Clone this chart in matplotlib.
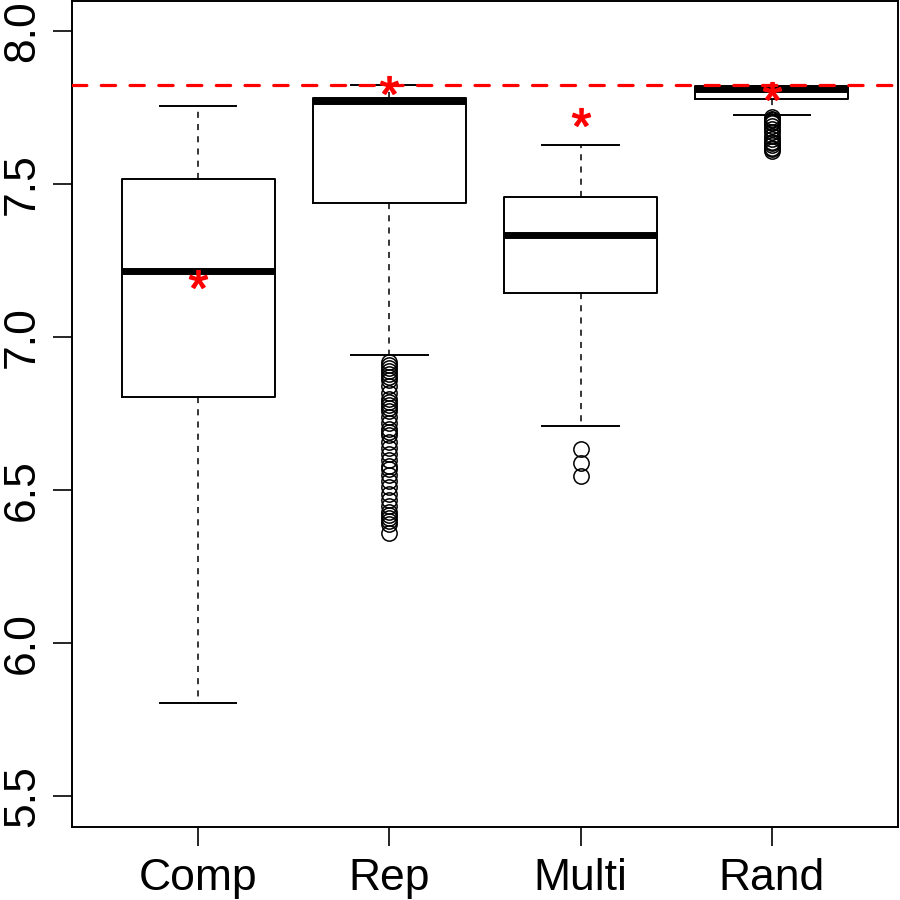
import matplotlib
matplotlib.use("Agg")
import matplotlib.pyplot as plt

plt.rcParams["font.family"] = ["Liberation Sans", "DejaVu Sans"]
plt.rcParams["mathtext.fontset"] = "custom"
plt.rcParams["mathtext.rm"] = "Liberation Sans"
plt.rcParams["mathtext.it"] = "Liberation Sans"

# values
groups = ["Comp", "Rep", "Multi", "Rand"]
whislo = [5.807, 6.943, 6.711, 7.726]
q1 = [6.805, 7.439, 7.145, 7.780]
med = [7.217, 7.773, 7.334, 7.811]
q3 = [7.517, 7.783, 7.458, 7.823]
whishi = [7.755, 7.824, 7.628, 7.823]
means = [7.19, 7.824, 7.719, 7.804]
outliers = [
    [],
    [6.92, 6.91, 6.90, 6.89, 6.88, 6.87, 6.86, 6.84, 6.82, 6.80, 6.79, 6.78,
     6.77, 6.76, 6.74, 6.72, 6.70, 6.69, 6.68, 6.66, 6.64, 6.62, 6.60, 6.58,
     6.57, 6.55, 6.53, 6.51, 6.49, 6.47, 6.45, 6.43, 6.42, 6.41, 6.40, 6.39,
     6.36],
    [6.636, 6.590, 6.548],
    [7.72, 7.715, 7.71, 7.705, 7.70, 7.69, 7.68, 7.67, 7.66, 7.65, 7.64,
     7.635, 7.63, 7.62, 7.615, 7.61],
]
ref_value = 7.824

stats = [dict(label=g, whislo=a, q1=b, med=c, q3=d, whishi=e, fliers=f)
         for g, a, b, c, d, e, f in zip(groups, whislo, q1, med, q3, whishi, outliers)]
pos = list(range(1, len(groups) + 1))

fig = plt.figure(figsize=(9, 9), dpi=100)
ax = fig.add_axes([0.08, 0.081, 0.918, 0.918])

ax.bxp(stats, positions=pos, widths=0.8, capwidths=0.4, showfliers=True,
       boxprops=dict(color="black", linewidth=1.4),
       medianprops=dict(color="black", linewidth=5, solid_capstyle="butt"),
       whiskerprops=dict(color="black", linewidth=1.1, linestyle=(0, (4, 4))),
       capprops=dict(color="black", linewidth=1.4),
       flierprops=dict(marker="o", markersize=11, markerfacecolor="none",
                       markeredgecolor="black", markeredgewidth=1.1))

ax.plot(pos, means, ls="none", marker="$*$", ms=13, color="red", zorder=5)
ax.axhline(ref_value, color="red", linewidth=2.3, linestyle=(0, (4.5, 4.5)),
           dash_capstyle="round", zorder=4)

ax.set_xlim(0.34, 4.66)
ax.set_ylim(5.4, 8.1)
ax.set_yticks([5.5, 6.0, 6.5, 7.0, 7.5, 8.0])
ax.set_yticklabels(["5.5", "6.0", "6.5", "7.0", "7.5", "8.0"], rotation=90, va="center")
ax.set_xticks(pos)
ax.set_xticklabels(groups)
ax.tick_params(axis="both", labelsize=32, length=14, width=1.2)
ax.tick_params(axis="y", pad=7)
ax.tick_params(axis="x", pad=8)
for s in ax.spines.values():
    s.set_linewidth(1.4)

fig.savefig("out.png", dpi=100)
